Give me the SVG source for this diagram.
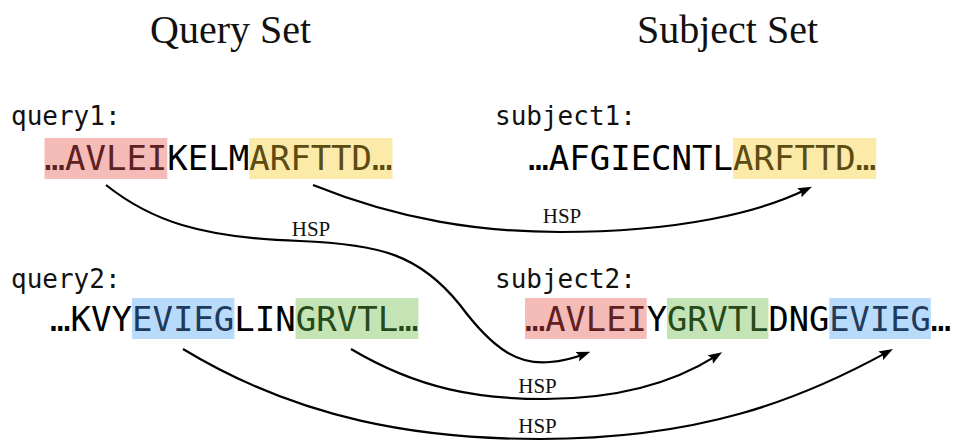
<svg xmlns="http://www.w3.org/2000/svg" width="953" height="441" viewBox="0 0 953 441">
<style>
.title{font-family:"Liberation Serif","Times New Roman",serif;font-size:40px;fill:#111}
.lbl{font-family:"DejaVu Sans Mono","Liberation Mono",monospace;font-size:26px;fill:#111}
.seq{font-family:"DejaVu Sans Mono","Liberation Mono",monospace;font-size:34px;fill:#000}
.hsp{font-family:"Liberation Serif","Times New Roman",serif;font-size:21px;fill:#111;text-anchor:middle}
.r{fill:#f5bbb7}.rt{fill:#5e2020}
.y{fill:#fbeaa8}.yt{fill:#5c4b12}
.b{fill:#b9dbfb}.bt{fill:#1e3a5c}
.g{fill:#c5e4b5}.gt{fill:#254a1c}
.conn path{fill:none;stroke:#000;stroke-width:2.2}
</style>
<defs>
<marker id="ah" viewBox="0 0 14 10" refX="7" refY="5" markerWidth="14" markerHeight="10" markerUnits="userSpaceOnUse" orient="auto">
<path d="M0,0 L14,5 L0,10 L2.5,5 z" fill="#000"/>
</marker>
</defs>
<rect width="953" height="441" fill="#fff"/>
<g id="titles">
<text class="title" x="150" y="43">Query Set</text>
<text class="title" x="637" y="43">Subject Set</text>
</g>
<g id="query1">
<text class="lbl" x="11" y="125">query1:</text>
<rect class="r" x="44.5" y="138" width="122.8" height="41"/>
<rect class="y" x="249.2" y="138" width="143.3" height="41"/>
<text class="seq" x="44.5" y="170"><tspan class="rt">…AVLEI</tspan>KELM<tspan class="yt">ARFTTD…</tspan></text>
</g>
<g id="subject1">
<text class="lbl" x="495" y="125">subject1:</text>
<rect class="y" x="733" y="138" width="143.3" height="41"/>
<text class="seq" x="528.3" y="170">…AFGIECNTL<tspan class="yt">ARFTTD…</tspan></text>
</g>
<g id="query2">
<text class="lbl" x="11" y="288">query2:</text>
<rect class="b" x="132" y="298" width="102.4" height="41"/>
<rect class="g" x="295.6" y="298" width="122.8" height="41"/>
<text class="seq" x="50.1" y="331">…KVY<tspan class="bt">EVIEG</tspan>LIN<tspan class="gt">GRVTL…</tspan></text>
</g>
<g id="subject2">
<text class="lbl" x="495" y="288">subject2:</text>
<rect class="r" x="525" y="298" width="121.7" height="41"/>
<rect class="g" x="667" y="298" width="101.5" height="41"/>
<rect class="b" x="829.3" y="298" width="101.5" height="41"/>
<text class="seq" x="525" y="331" style="font-size:33.7px"><tspan class="rt">…AVLEI</tspan>Y<tspan class="gt">GRVTL</tspan>DNG<tspan class="bt">EVIEG</tspan>…</text>
</g>
<g id="connectors" class="conn">
<path d="M106,185 C150,220 200,238 300,241 C380,244 420,255 460,305 C495,352 520,365 550,362 C563,361 574,358 583.8,354.2" marker-end="url(#ah)"/>
<path d="M313,185 C400,220 480,232 560,232 C680,232 760,212 805.6,189.8" marker-end="url(#ah)"/>
<path d="M183,349 C300,420 420,439 540,439 C700,439 800,400 886.8,352.4" marker-end="url(#ah)"/>
<path d="M351,349 C420,390 480,399 545,399 C620,399 675,382 716.2,355.9" marker-end="url(#ah)"/>
<text class="hsp" x="311" y="236">HSP</text>
<text class="hsp" x="562" y="223">HSP</text>
<text class="hsp" x="537.5" y="393">HSP</text>
<text class="hsp" x="537.5" y="433">HSP</text>
</g>
</svg>
